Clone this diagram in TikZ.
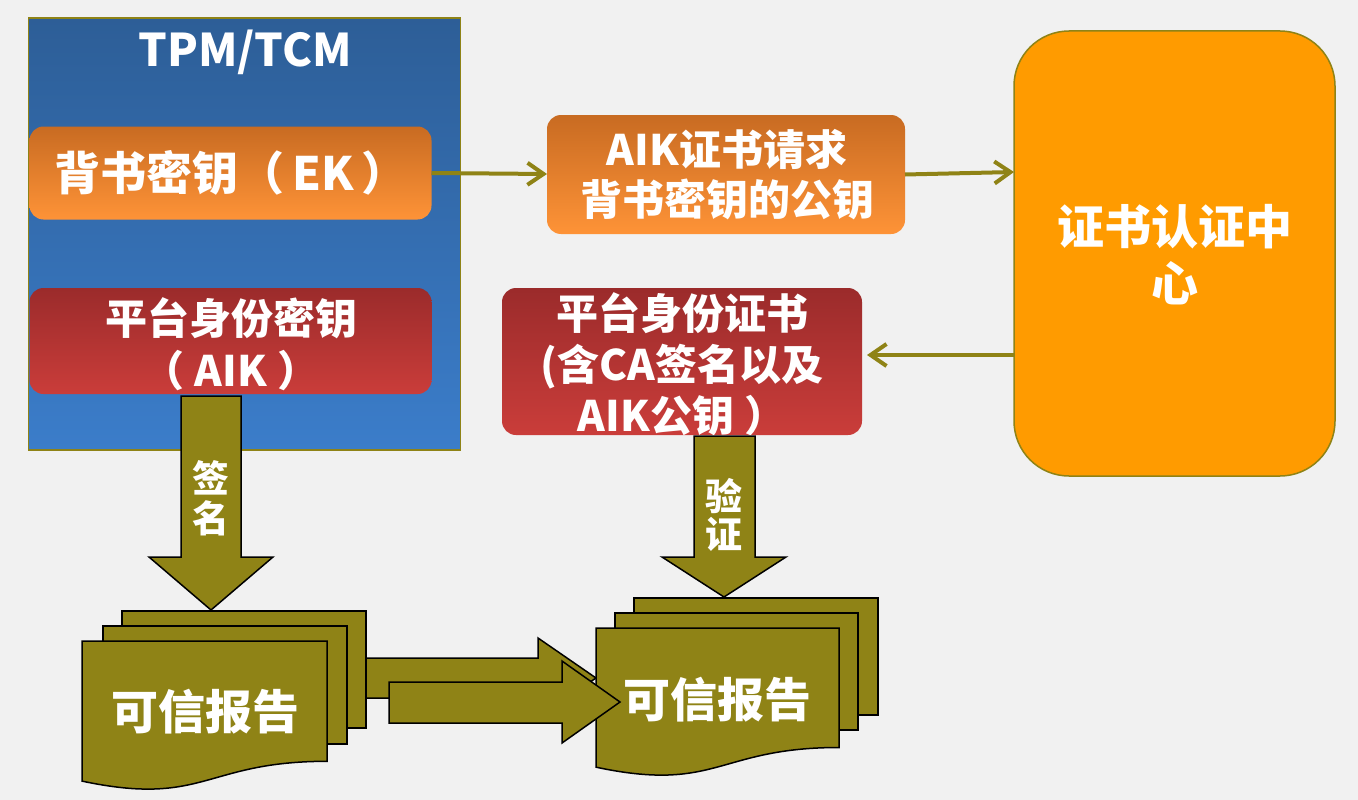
\documentclass[tikz,border=0pt]{standalone}
\usepackage{fontspec}
\setmainfont{Noto Sans CJK SC}
\usetikzlibrary{arrows.meta}
\definecolor{bgc}{RGB}{241,241,241}
\definecolor{oliv}{RGB}{143,131,22}
\definecolor{tpmTop}{RGB}{45,94,151}
\definecolor{tpmBot}{RGB}{59,125,202}
\definecolor{orTop}{RGB}{200,107,34}
\definecolor{orBot}{RGB}{254,147,55}
\definecolor{rdTop}{RGB}{155,43,43}
\definecolor{rdBot}{RGB}{202,61,58}
\definecolor{caFill}{RGB}{255,155,0}
\newcommand{\docsheet}[4]{% x0 y0 w h
  \fill[oliv] (#1,#2) -- ({#1+#3},#2) -- ({#1+#3},{#2+0.802*#4})
    .. controls ({#1+#3/2},{#2+0.802*#4}) and ({#1+#3/2},{#2+1.1075*#4}) .. (#1,{#2+0.934*#4}) -- cycle;
  \draw[black,line width=1.5] (#1,#2) -- ({#1+#3},#2) -- ({#1+#3},{#2+0.802*#4})
    .. controls ({#1+#3/2},{#2+0.802*#4}) and ({#1+#3/2},{#2+1.1075*#4}) .. (#1,{#2+0.934*#4}) -- cycle;}
\begin{document}
\begin{tikzpicture}[x=1pt,y=-1pt,
  box/.style={inner sep=0pt, outer sep=0pt, rounded corners=14pt},
  txt/.style={text=white, align=center, inner sep=0pt},
  conn/.style={draw=oliv, line width=4pt, -{Straight Barb[length=16pt,width=22pt]}},
  blk/.style={fill=oliv, draw=black, line width=1.5pt, line join=miter},
  sheet/.style={fill=oliv, draw=black, line width=1.5pt}]
\useasboundingbox (0,0) rectangle (1358,800);
\fill[bgc] (0,0) rectangle (1358,800);

% TPM box
\node[inner sep=0pt, outer sep=0pt, minimum width=432pt, minimum height=432pt,
  draw=oliv, line width=1.5pt, top color=tpmTop, bottom color=tpmBot] (tpm) at (244.5,234) {};
\node[txt, font=\bfseries\fontsize{45}{50}\selectfont] (tpmt) at (245,52) {TPM/TCM};

% EK
\node[box, minimum width=402pt, minimum height=93pt, top color=orTop, bottom color=orBot] (ek) at (230.5,173) {};
\node[txt, font=\bfseries\fontsize{46}{52}\selectfont] (ekt) at (231,173) {背书密钥（\hspace{8pt}EK\hspace{8pt}）};

% AIK
\node[box, minimum width=402pt, minimum height=106pt, top color=rdTop, bottom color=rdBot] (aik) at (230.5,341) {};
\node[txt, font=\bfseries\fontsize{42}{52}\selectfont] (aikt) at (231,344) {平台身份密钥\\（\hspace{10pt}AIK\hspace{10pt}）};

% request
\node[box, minimum width=358pt, minimum height=119pt, top color=orTop, bottom color=orBot] (req) at (726,174.5) {};
\node[txt, font=\bfseries\fontsize{42}{50}\selectfont] (reqt) at (727,175) {AIK证书请求\\背书密钥的公钥};

% certificate
\node[box, minimum width=360pt, minimum height=147pt, top color=rdTop, bottom color=rdBot] (cert) at (682,361.5) {};
\node[txt, font=\bfseries\fontsize{42}{51}\selectfont] (certt) at (682,364) {平台身份证书\\(含CA签名以及\\AIK公钥\hspace{10pt}）};

% CA
\node[inner sep=0pt, outer sep=0pt, rounded corners=55pt, minimum width=321pt, minimum height=445pt,
  fill=caFill, draw=oliv, line width=1.5pt] (ca) at (1174.5,253.5) {};
\node[txt, font=\bfseries\fontsize{47}{57}\selectfont] (cat) at (1174.5,254.5) {证书认证中\\心};

% connectors
\coordinate (reqin) at (547,174);
\coordinate (cain) at (1014,172);
\coordinate (caout) at (1014,355);
\coordinate (certin) at (867,355);
\draw[conn] (ek.east) -- (reqin);
\draw[conn] (req.east) -- (cain);
\draw[conn] (caout) -- (certin);

% left documents
\draw[sheet] (122,611) rectangle (366,728);
\draw[sheet] (103,626) rectangle (347,744);
\docsheet{82}{641}{245}{150}

% arrow 1
\draw[blk] (366,658) -- (538,658) -- (538,638) -- (596,678) -- (538,718) -- (538,698) -- (366,698) -- cycle;

% right documents
\draw[sheet] (634,598) rectangle (878,715);
\draw[sheet] (615,613) rectangle (858,730);
\docsheet{596}{628}{243}{149}

% arrow 2
\draw[blk] (389,682) -- (562,682) -- (562,661) -- (620,702) -- (562,743) -- (562,723) -- (389,723) -- cycle;

% down arrows
\draw[blk] (181,396) -- (241,396) -- (241,557) -- (273,557) -- (211,610) -- (149,557) -- (181,557) -- cycle;
\draw[blk] (694,436) -- (755,436) -- (755,557) -- (786,557) -- (724,597) -- (662,557) -- (694,557) -- cycle;

% texts on arrows and documents
\node[txt, font=\bfseries\fontsize{37}{40}\selectfont] (sign) at (211,498) {签\\名};
\node[txt, font=\bfseries\fontsize{37}{38}\selectfont] (verify) at (724,515) {验\\证};
\node[txt, font=\bfseries\fontsize{47}{50}\selectfont] (rep1) at (205,712) {可信报告};
\node[txt, font=\bfseries\fontsize{47}{50}\selectfont] (rep2) at (717,700) {可信报告};
\end{tikzpicture}
\end{document}
